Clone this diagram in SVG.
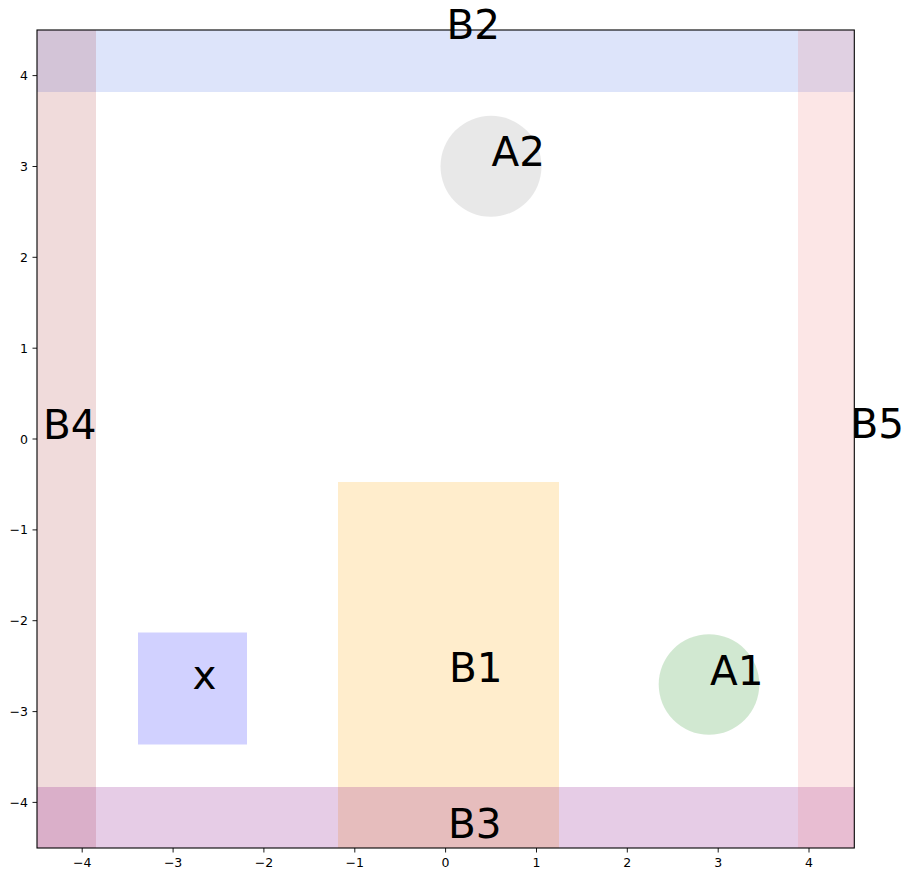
<svg xmlns="http://www.w3.org/2000/svg" width="913" height="879" viewBox="0 0 913 879">
<style>
.lbl{font-family:"DejaVu Sans",sans-serif;font-size:40.5px;fill:#000}
.tk{font-family:"DejaVu Sans",sans-serif;font-size:12.5px;fill:#000}
.tkl{stroke:#000;stroke-width:0.9}
.frame{fill:none;stroke:#000;stroke-width:1.1}
</style>
<defs>
<clipPath id="ax"><rect x="37" y="30" width="817.3" height="818"/></clipPath>
</defs>
<rect width="913" height="879" fill="#fff"/>
<g clip-path="url(#ax)">
<g id="B1"><rect x="338" y="482" width="221" height="366" fill="#ffa500" fill-opacity="0.2"/></g>
<g id="x"><rect x="138" y="632.5" width="109" height="112" fill="#0000ff" fill-opacity="0.18"/></g>
<g id="A1"><circle cx="709" cy="684.5" r="50.3" fill="#008000" fill-opacity="0.18"/></g>
<g id="A2"><circle cx="491" cy="166.3" r="50.5" fill="#808080" fill-opacity="0.18"/></g>
<g id="B2"><rect x="37" y="30" width="817.3" height="62" fill="#4169e1" fill-opacity="0.18"/></g>
<g id="B4"><rect x="37" y="30" width="59" height="818" fill="#a52a2a" fill-opacity="0.17"/></g>
<g id="B3"><rect x="37" y="787" width="817.3" height="61" fill="#800080" fill-opacity="0.2"/></g>
<g id="B5"><rect x="798" y="30" width="56.3" height="818" fill="#f08080" fill-opacity="0.2"/></g>
</g>
<g id="connectors"></g>
<rect class="frame" x="37" y="30" width="817.3" height="818"/>
<g id="xticks">
<line class="tkl" x1="82.2" y1="848" x2="82.2" y2="852.5"/>
<line class="tkl" x1="173.1" y1="848" x2="173.1" y2="852.5"/>
<line class="tkl" x1="263.9" y1="848" x2="263.9" y2="852.5"/>
<line class="tkl" x1="354.8" y1="848" x2="354.8" y2="852.5"/>
<line class="tkl" x1="445.6" y1="848" x2="445.6" y2="852.5"/>
<line class="tkl" x1="536.5" y1="848" x2="536.5" y2="852.5"/>
<line class="tkl" x1="627.3" y1="848" x2="627.3" y2="852.5"/>
<line class="tkl" x1="718.2" y1="848" x2="718.2" y2="852.5"/>
<line class="tkl" x1="809" y1="848" x2="809" y2="852.5"/>
<text class="tk" text-anchor="middle" x="82.2" y="867">−4</text>
<text class="tk" text-anchor="middle" x="173.1" y="867">−3</text>
<text class="tk" text-anchor="middle" x="263.9" y="867">−2</text>
<text class="tk" text-anchor="middle" x="354.8" y="867">−1</text>
<text class="tk" text-anchor="middle" x="445.6" y="867">0</text>
<text class="tk" text-anchor="middle" x="536.5" y="867">1</text>
<text class="tk" text-anchor="middle" x="627.3" y="867">2</text>
<text class="tk" text-anchor="middle" x="718.2" y="867">3</text>
<text class="tk" text-anchor="middle" x="809" y="867">4</text>
</g>
<g id="yticks">
<line class="tkl" x1="32.5" y1="75.6" x2="37" y2="75.6"/>
<line class="tkl" x1="32.5" y1="166.5" x2="37" y2="166.5"/>
<line class="tkl" x1="32.5" y1="257.3" x2="37" y2="257.3"/>
<line class="tkl" x1="32.5" y1="348.2" x2="37" y2="348.2"/>
<line class="tkl" x1="32.5" y1="439" x2="37" y2="439"/>
<line class="tkl" x1="32.5" y1="529.9" x2="37" y2="529.9"/>
<line class="tkl" x1="32.5" y1="620.7" x2="37" y2="620.7"/>
<line class="tkl" x1="32.5" y1="711.6" x2="37" y2="711.6"/>
<line class="tkl" x1="32.5" y1="802.4" x2="37" y2="802.4"/>
<text class="tk" text-anchor="end" x="28" y="80.1">4</text>
<text class="tk" text-anchor="end" x="28" y="171">3</text>
<text class="tk" text-anchor="end" x="28" y="261.8">2</text>
<text class="tk" text-anchor="end" x="28" y="352.7">1</text>
<text class="tk" text-anchor="end" x="28" y="443.5">0</text>
<text class="tk" text-anchor="end" x="28" y="534.4">−1</text>
<text class="tk" text-anchor="end" x="28" y="625.2">−2</text>
<text class="tk" text-anchor="end" x="28" y="716.1">−3</text>
<text class="tk" text-anchor="end" x="28" y="806.9">−4</text>
</g>
<g id="labels">
<text class="lbl" x="449" y="682">B1</text>
<text class="lbl" x="446.5" y="39">B2</text>
<text class="lbl" x="448" y="838">B3</text>
<text class="lbl" x="43" y="439">B4</text>
<text class="lbl" x="850.5" y="438">B5</text>
<text class="lbl" x="710" y="684.5">A1</text>
<text class="lbl" x="491.5" y="166">A2</text>
<text class="lbl" x="192.5" y="688.5">x</text>
</g>
</svg>
